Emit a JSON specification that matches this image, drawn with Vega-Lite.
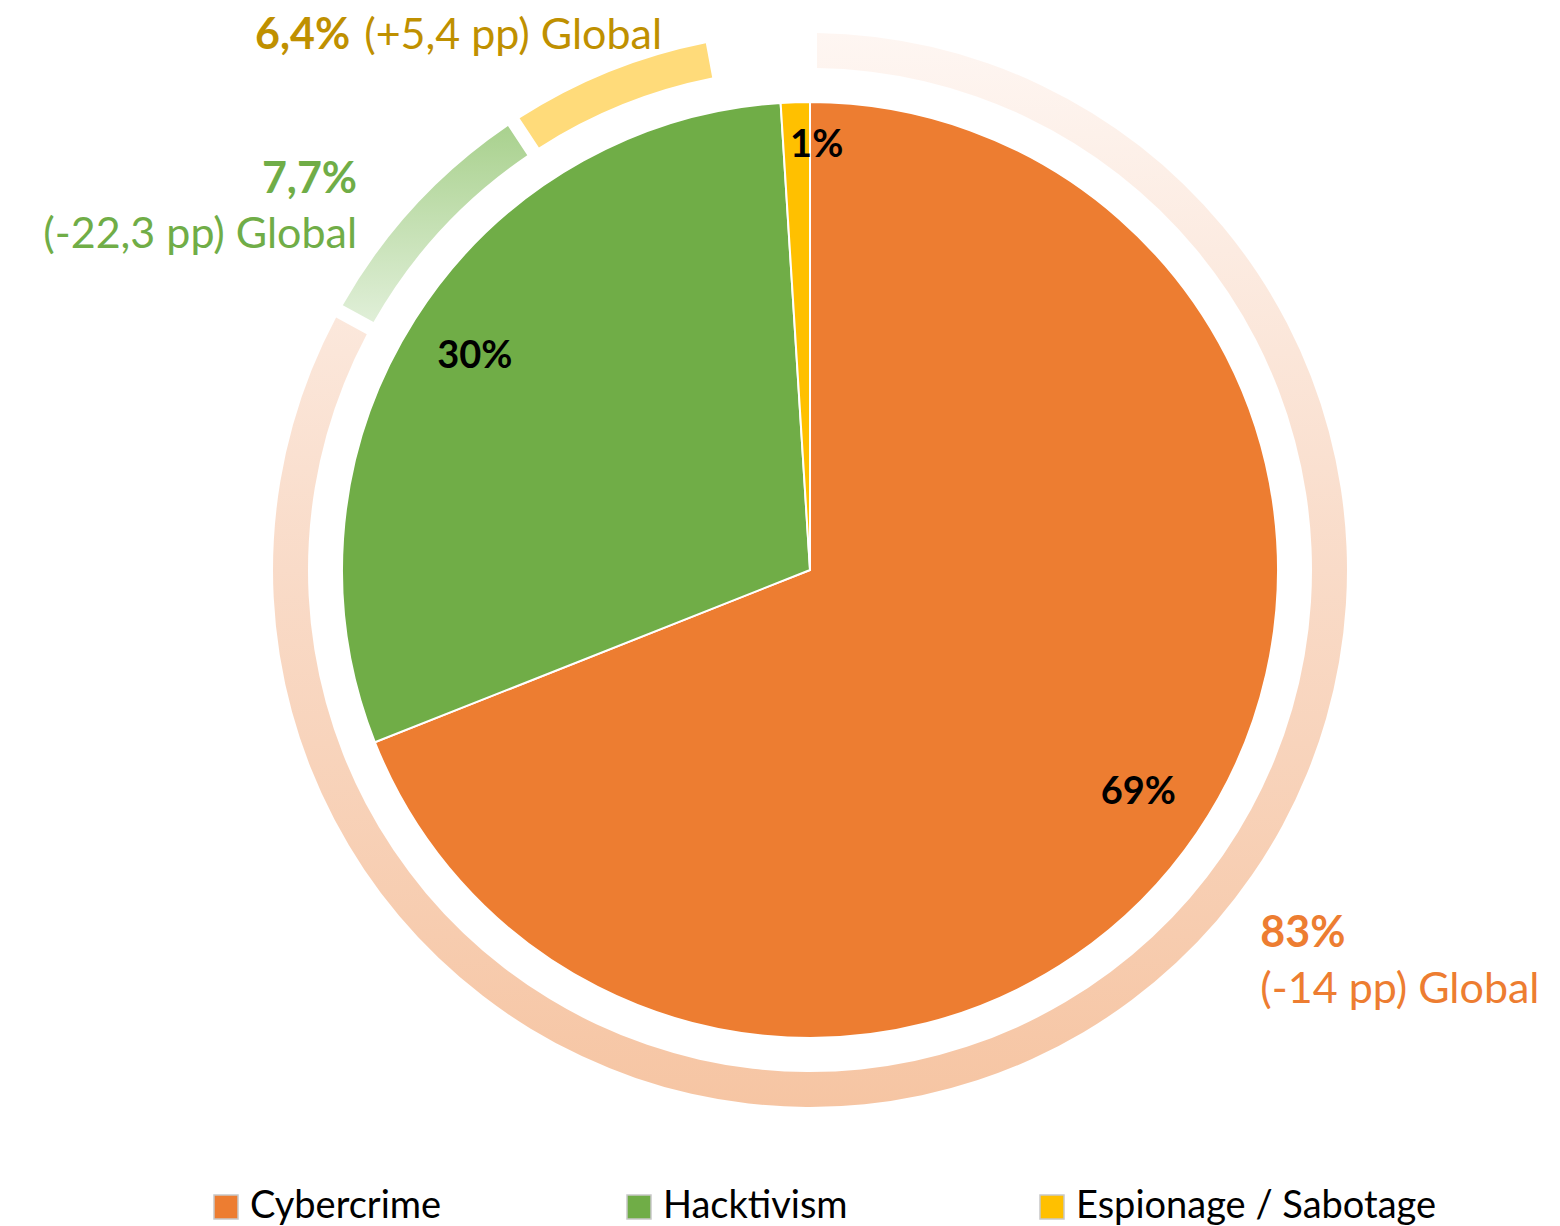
{
  "$schema": "https://vega.github.io/schema/vega-lite/v6.json",
  "width": 1500,
  "height": 1140,
  "autosize": {"type": "none"},
  "padding": {"left": 60, "top": 0, "right": 0, "bottom": 86},
  "background": "white",
  "datasets": {
    "pie": [
      {"category": "Cybercrime", "share": 69, "label": "69%"},
      {"category": "Hacktivism", "share": 30, "label": "30%"},
      {"category": "Espionage / Sabotage", "share": 1, "label": "1%"}
    ],
    "ring": [
      {"category": "Cybercrime", "share": 83, "pct": "83%", "delta": "(-14 pp) Global"},
      {"category": "Hacktivism", "share": 7.7, "pct": "7,7%", "delta": "(-22,3 pp) Global"},
      {"category": "Espionage / Sabotage", "share": 6.4, "pct": "6,4%", "delta": "(+5,4 pp) Global"}
    ]
  },
  "layer": [
    {
      "data": {"name": "ring"},
      "transform": [
        {"window": [{"op": "row_number", "as": "idx"}]},
        {"stack": "share", "groupby": [], "sort": [{"field": "idx", "order": "ascending"}], "as": ["r0", "r1"]},
        {"filter": "datum.category === 'Cybercrime'"}
      ],
      "mark": {"type": "arc", "innerRadius": 502, "outerRadius": 537, "padAngle": 0.019,
        "fill": {"gradient": "linear", "x1": 0, "y1": 0, "x2": 0, "y2": 1,
          "stops": [{"offset": 0, "color": "#FEF6F2"}, {"offset": 0.5, "color": "#F9DBC8"}, {"offset": 1, "color": "#F6C5A3"}]}},
      "encoding": {
        "theta": {"field": "r0", "type": "quantitative", "scale": {"domain": [0, 100]}},
        "theta2": {"field": "r1"}
      }
    },
    {
      "data": {"name": "ring"},
      "transform": [
        {"window": [{"op": "row_number", "as": "idx"}]},
        {"stack": "share", "groupby": [], "sort": [{"field": "idx", "order": "ascending"}], "as": ["r0", "r1"]},
        {"filter": "datum.category === 'Hacktivism'"}
      ],
      "mark": {"type": "arc", "innerRadius": 502, "outerRadius": 537, "padAngle": 0.019,
        "fill": {"gradient": "linear", "x1": 0, "y1": 1, "x2": 0, "y2": 0,
          "stops": [{"offset": 0, "color": "#E0EFD8"}, {"offset": 1, "color": "#A9D18E"}]}},
      "encoding": {
        "theta": {"field": "r0", "type": "quantitative", "scale": {"domain": [0, 100]}},
        "theta2": {"field": "r1"}
      }
    },
    {
      "data": {"name": "ring"},
      "transform": [
        {"window": [{"op": "row_number", "as": "idx"}]},
        {"stack": "share", "groupby": [], "sort": [{"field": "idx", "order": "ascending"}], "as": ["r0", "r1"]},
        {"filter": "datum.category === 'Espionage / Sabotage'"}
      ],
      "mark": {"type": "arc", "innerRadius": 502, "outerRadius": 537, "padAngle": 0.019, "fill": "#FFDB7A"},
      "encoding": {
        "theta": {"field": "r0", "type": "quantitative", "scale": {"domain": [0, 100]}},
        "theta2": {"field": "r1"}
      }
    },
    {
      "data": {"name": "pie"},
      "transform": [{"window": [{"op": "row_number", "as": "idx"}]}],
      "mark": {"type": "arc", "outerRadius": 468, "stroke": "white", "strokeWidth": 2},
      "encoding": {
        "theta": {"field": "share", "type": "quantitative", "stack": true, "scale": {"domain": [0, 100]}},
        "order": {"field": "idx", "type": "quantitative"},
        "color": {
          "field": "category", "type": "nominal",
          "scale": {"domain": ["Cybercrime", "Hacktivism", "Espionage / Sabotage"], "range": ["#ED7D31", "#70AD47", "#FFC000"]},
          "legend": {
            "title": null, "orient": "none", "legendX": 147, "legendY": 1188, "direction": "horizontal",
            "symbolType": "square", "symbolSize": 576, "symbolStrokeColor": "#C8C8C8", "symbolStrokeWidth": 1.5,
            "labelFont": "Lato", "labelFontSize": 38, "labelColor": "#000000", "labelOffset": 5,
            "columnPadding": 9, "gridAlign": "all", "padding": 0, "labelLimit": 600
          }
        }
      }
    },
    {
      "data": {"name": "pie"},
      "transform": [{"window": [{"op": "row_number", "as": "idx"}]}],
      "mark": {"type": "text", "radius": 397, "align": "center", "baseline": "middle", "font": "Lato", "fontSize": 38, "fontWeight": "bold", "fill": "#000000"},
      "encoding": {
        "theta": {"field": "share", "type": "quantitative", "stack": true, "scale": {"domain": [0, 100]}},
        "order": {"field": "idx", "type": "quantitative"},
        "detail": {"field": "category", "type": "nominal"},
        "text": {"condition": {"test": "datum.category !== 'Espionage / Sabotage'", "field": "label", "type": "nominal"}, "value": ""}
      }
    },
    {
      "data": {"name": "pie"},
      "transform": [{"window": [{"op": "row_number", "as": "idx"}]}],
      "mark": {"type": "text", "radius": 424, "dx": 20, "align": "center", "baseline": "middle", "font": "Lato", "fontSize": 38, "fontWeight": "bold", "fill": "#000000"},
      "encoding": {
        "theta": {"field": "share", "type": "quantitative", "stack": true, "scale": {"domain": [0, 100]}},
        "order": {"field": "idx", "type": "quantitative"},
        "detail": {"field": "category", "type": "nominal"},
        "text": {"condition": {"test": "datum.category === 'Espionage / Sabotage'", "field": "label", "type": "nominal"}, "value": ""}
      }
    },
    {
      "data": {"name": "ring"},
      "transform": [{"window": [{"op": "row_number", "as": "idx"}]}],
      "mark": {"type": "text", "radius": 537, "align": "left", "baseline": "alphabetic", "dx": 177, "dy": -85.5, "font": "Lato", "fontSize": 43, "fontWeight": "bold", "fill": "#ED7D31"},
      "encoding": {
        "theta": {"field": "share", "type": "quantitative", "stack": true, "scale": {"domain": [0, 100]}},
        "order": {"field": "idx", "type": "quantitative"},
        "detail": {"field": "category", "type": "nominal"},
        "text": {"condition": {"test": "datum.category === 'Cybercrime'", "field": "pct", "type": "nominal"}, "value": ""}
      }
    },
    {
      "data": {"name": "ring"},
      "transform": [{"window": [{"op": "row_number", "as": "idx"}]}],
      "mark": {"type": "text", "radius": 537, "align": "left", "baseline": "alphabetic", "dx": 177, "dy": -29.5, "font": "Lato", "fontSize": 43, "fill": "#ED7D31"},
      "encoding": {
        "theta": {"field": "share", "type": "quantitative", "stack": true, "scale": {"domain": [0, 100]}},
        "order": {"field": "idx", "type": "quantitative"},
        "detail": {"field": "category", "type": "nominal"},
        "text": {"condition": {"test": "datum.category === 'Cybercrime'", "field": "delta", "type": "nominal"}, "value": ""}
      }
    },
    {
      "data": {"name": "ring"},
      "transform": [{"window": [{"op": "row_number", "as": "idx"}]}],
      "mark": {"type": "text", "radius": 537, "align": "right", "baseline": "alphabetic", "dx": -58, "dy": -12.7, "font": "Lato", "fontSize": 43, "fontWeight": "bold", "fill": "#70AD47"},
      "encoding": {
        "theta": {"field": "share", "type": "quantitative", "stack": true, "scale": {"domain": [0, 100]}},
        "order": {"field": "idx", "type": "quantitative"},
        "detail": {"field": "category", "type": "nominal"},
        "text": {"condition": {"test": "datum.category === 'Hacktivism'", "field": "pct", "type": "nominal"}, "value": ""}
      }
    },
    {
      "data": {"name": "ring"},
      "transform": [{"window": [{"op": "row_number", "as": "idx"}]}],
      "mark": {"type": "text", "radius": 537, "align": "right", "baseline": "alphabetic", "dx": -58, "dy": 42, "font": "Lato", "fontSize": 43, "fill": "#70AD47"},
      "encoding": {
        "theta": {"field": "share", "type": "quantitative", "stack": true, "scale": {"domain": [0, 100]}},
        "order": {"field": "idx", "type": "quantitative"},
        "detail": {"field": "category", "type": "nominal"},
        "text": {"condition": {"test": "datum.category === 'Hacktivism'", "field": "delta", "type": "nominal"}, "value": ""}
      }
    },
    {
      "data": {"name": "ring"},
      "transform": [{"window": [{"op": "row_number", "as": "idx"}]}],
      "mark": {"type": "text", "radius": 537, "align": "right", "baseline": "alphabetic", "dx": -259, "dy": -22.7, "font": "Lato", "fontSize": 43, "fontWeight": "bold", "fill": "#BF9000"},
      "encoding": {
        "theta": {"field": "share", "type": "quantitative", "stack": true, "scale": {"domain": [0, 100]}},
        "order": {"field": "idx", "type": "quantitative"},
        "detail": {"field": "category", "type": "nominal"},
        "text": {"condition": {"test": "datum.category === 'Espionage / Sabotage'", "field": "pct", "type": "nominal"}, "value": ""}
      }
    },
    {
      "data": {"name": "ring"},
      "transform": [{"window": [{"op": "row_number", "as": "idx"}]}],
      "mark": {"type": "text", "radius": 537, "align": "left", "baseline": "alphabetic", "dx": -245, "dy": -22.7, "font": "Lato", "fontSize": 43, "fill": "#BF9000"},
      "encoding": {
        "theta": {"field": "share", "type": "quantitative", "stack": true, "scale": {"domain": [0, 100]}},
        "order": {"field": "idx", "type": "quantitative"},
        "detail": {"field": "category", "type": "nominal"},
        "text": {"condition": {"test": "datum.category === 'Espionage / Sabotage'", "field": "delta", "type": "nominal"}, "value": ""}
      }
    }
  ],
  "config": {"view": {"stroke": null}, "font": "Lato"}
}
